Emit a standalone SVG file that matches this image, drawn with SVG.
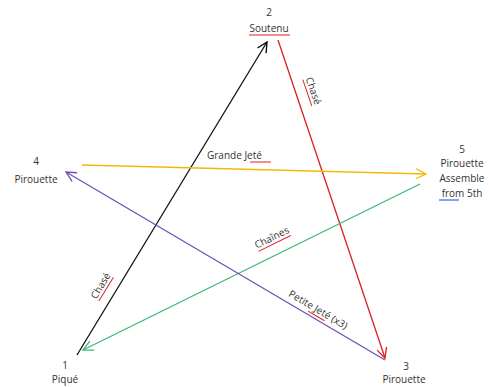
<svg xmlns="http://www.w3.org/2000/svg" width="489" height="387" viewBox="0 0 489 387">
<style>
text{font-family:"Open Sans","Liberation Sans",sans-serif;font-size:10px;fill:#333}
.c{text-anchor:middle}
.ln{fill:none;stroke-width:1.3}
.ul{fill:none;stroke:#e02020;stroke-width:1}
</style>
<defs>
<marker id="aK" markerUnits="userSpaceOnUse" markerWidth="14" markerHeight="14" refX="11" refY="6" orient="auto"><path d="M1,1 L11,6 L1,11" fill="none" stroke="#000" stroke-width="1.3"/></marker>
<marker id="aR" markerUnits="userSpaceOnUse" markerWidth="14" markerHeight="14" refX="11" refY="6" orient="auto"><path d="M1,1 L11,6 L1,11" fill="none" stroke="#d82020" stroke-width="1.3"/></marker>
<marker id="aO" markerUnits="userSpaceOnUse" markerWidth="14" markerHeight="14" refX="11" refY="6" orient="auto"><path d="M1,1 L11,6 L1,11" fill="none" stroke="#f5b800" stroke-width="1.3"/></marker>
<marker id="aG" markerUnits="userSpaceOnUse" markerWidth="14" markerHeight="14" refX="11" refY="6" orient="auto"><path d="M1,1 L11,6 L1,11" fill="none" stroke="#3cb878" stroke-width="1.3"/></marker>
<marker id="aP" markerUnits="userSpaceOnUse" markerWidth="14" markerHeight="14" refX="11" refY="6" orient="auto"><path d="M1,1 L11,6 L1,11" fill="none" stroke="#7050b8" stroke-width="1.3"/></marker>
</defs>
<g id="connectors">
<line class="ln" x1="77" y1="355" x2="267" y2="42" stroke="#111" marker-end="url(#aK)"/>
<line class="ln" x1="278" y1="40" x2="385" y2="358" stroke="#d82020" marker-end="url(#aR)"/>
<line class="ln" x1="82" y1="165" x2="426" y2="174" stroke="#f5b800" marker-end="url(#aO)"/>
<line class="ln" x1="420" y1="184" x2="83" y2="350" stroke="#3cb878" marker-end="url(#aG)"/>
<line class="ln" x1="385" y1="360" x2="66" y2="172" stroke="#7050b8" marker-end="url(#aP)"/>
<g id="label-chase1" transform="translate(101,286) rotate(-58.7)"><text class="c" x="0" y="3">Chasé</text><line class="ul" x1="-14" y1="6" x2="14" y2="6"/></g>
<g id="label-chase2" transform="translate(313,91) rotate(71.3)"><text class="c" x="0" y="3">Chasé</text><line class="ul" x1="-14" y1="6" x2="14" y2="6"/></g>
<g id="label-grande"><text x="207" y="159">Grande Jeté</text><line class="ul" x1="250" y1="162" x2="271" y2="162"/></g>
<g id="label-chaines" transform="translate(272,238) rotate(-26.2)"><text class="c" x="0" y="3">Chaînes</text><line class="ul" x1="-18" y1="6" x2="18" y2="6"/></g>
<g id="label-petite" transform="translate(318,310) rotate(30.5)"><text class="c" x="0" y="3">Petite Jeté (x3)</text><line class="ul" x1="-8" y1="6" x2="11" y2="6"/></g>
</g>
<g id="node2"><text class="c" x="269" y="16">2</text><text class="c" x="269" y="32">Soutenu</text><line class="ul" x1="249" y1="35" x2="290" y2="35"/></g>
<g id="node4"><text class="c" x="36" y="165">4</text><text class="c" x="36" y="183">Pirouette</text></g>
<g id="node5"><text class="c" x="462" y="153">5</text><text class="c" x="462" y="167">Pirouette</text><text class="c" x="462" y="182">Assemble</text><text class="c" x="462" y="197">from 5th</text><line x1="439" y1="200" x2="459" y2="200" stroke="#2040e0" stroke-width="1"/></g>
<g id="node1"><text class="c" x="65" y="369">1</text><text class="c" x="65" y="383">Piqué</text></g>
<g id="node3"><text class="c" x="406" y="370">3</text><text class="c" x="404" y="383">Pirouette</text></g>
</svg>
